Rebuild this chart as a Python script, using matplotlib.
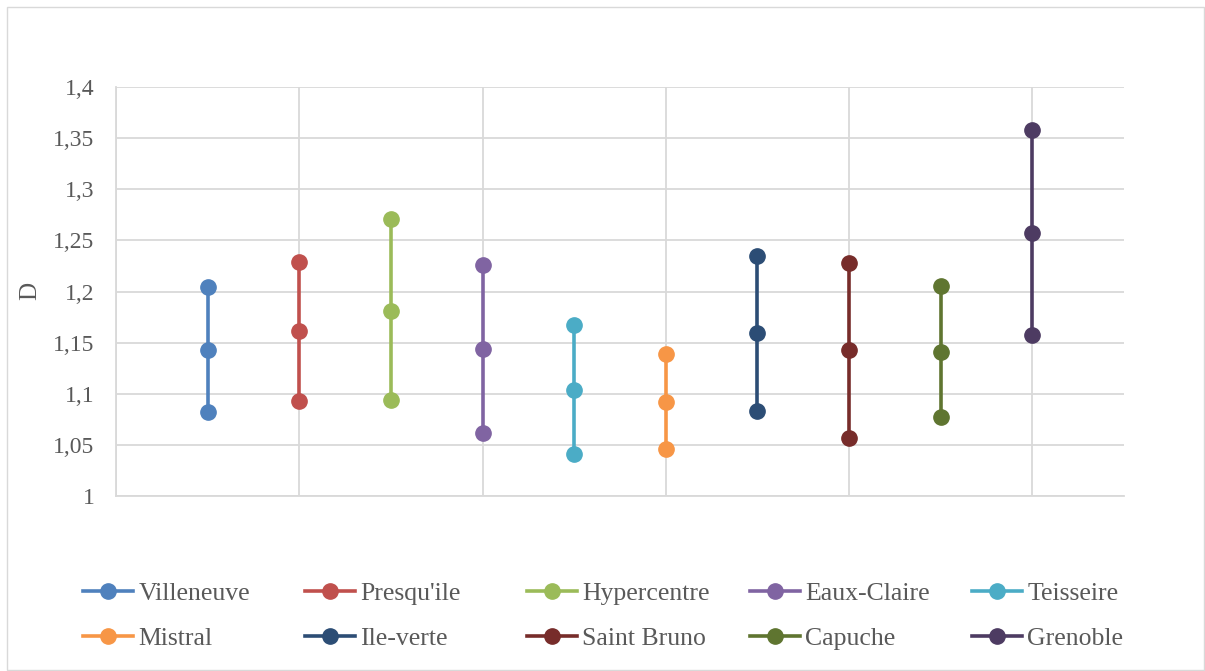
import matplotlib
matplotlib.use("Agg")
import matplotlib.pyplot as plt
from matplotlib.patches import Rectangle
from matplotlib.lines import Line2D

names = ["Villeneuve", "Presqu'ile", "Hypercentre", "Eaux-Claire", "Teisseire",
         "Mistral", "Ile-verte", "Saint Bruno", "Capuche", "Grenoble"]
high = [1.204, 1.229, 1.271, 1.226, 1.167, 1.139, 1.235, 1.228, 1.205, 1.358]
mid = [1.143, 1.161, 1.181, 1.144, 1.104, 1.092, 1.159, 1.143, 1.141, 1.257]
low = [1.082, 1.093, 1.094, 1.062, 1.041, 1.046, 1.083, 1.057, 1.077, 1.157]
colors = ["#4F81BD", "#C0504D", "#9BBB59", "#8064A2", "#4BACC6",
          "#F79646", "#2C4D75", "#772C2A", "#5F7530", "#4D3B62"]
yticks = [1, 1.05, 1.1, 1.15, 1.2, 1.25, 1.3, 1.35, 1.4]
ytick_labels = ["1", "1,05", "1,1", "1,15", "1,2", "1,25", "1,3", "1,35", "1,4"]

plt.rcParams['font.family'] = ['Liberation Serif', 'DejaVu Serif']

W, H = 1205, 671
fig = plt.figure(figsize=(W / 100, H / 100), dpi=100)
fig.patches.append(Rectangle((7 / W, 1 / H), 1197 / W, 663 / H, transform=fig.transFigure,
                             fill=False, edgecolor="#D9D9D9", linewidth=1))

ax = fig.add_axes([116 / W, 1 - 496 / H, (1124 - 116) / W, (496 - 87) / H])
grid_c = "#D9D9D9"
LW, MS = 2.6, 11
for i, n in enumerate(names):
    x = i + 1
    ax.plot([x, x, x], [low[i], mid[i], high[i]], color=colors[i], lw=LW,
            marker="o", ms=MS, zorder=3)

ax.set_xlim(0, 11)
ax.set_ylim(1, 1.4)
ax.set_xticks(range(0, 11, 2))
ax.set_xticklabels([])
ax.set_yticks(yticks)
ax.set_yticklabels(ytick_labels)
ax.tick_params(axis="both", length=0, labelsize=17, labelcolor="#595959", pad=15.5)
ax.grid(True, color=grid_c, lw=1.3, zorder=0)
ax.set_axisbelow(True)
for s in ["top", "right"]:
    ax.spines[s].set_visible(False)
for s in ["left", "bottom"]:
    ax.spines[s].set_color(grid_c)
    ax.spines[s].set_linewidth(1.3)

fig.text(30 / W, 1 - 291 / H, "D", rotation=90, ha="center", va="center",
         fontsize=18, color="#595959")

# legend: 5 fixed-width columns, 2 rows (row-major order)
col_x = [83, 305, 527, 750, 972]
for c in range(5):
    idx = [c, c + 5]
    hs = [Line2D([0], [0], color=colors[k], lw=LW, marker="o", ms=MS) for k in idx]
    fig.legend(hs, [names[k] for k in idx], loc="center left",
               bbox_to_anchor=(col_x[c] / W, 1 - 616 / H), frameon=False,
               fontsize=18.5, labelcolor="#595959", handlelength=1.95,
               handletextpad=0.2, labelspacing=0.82, borderpad=0, borderaxespad=0)

fig.savefig("out.png", dpi=100)
